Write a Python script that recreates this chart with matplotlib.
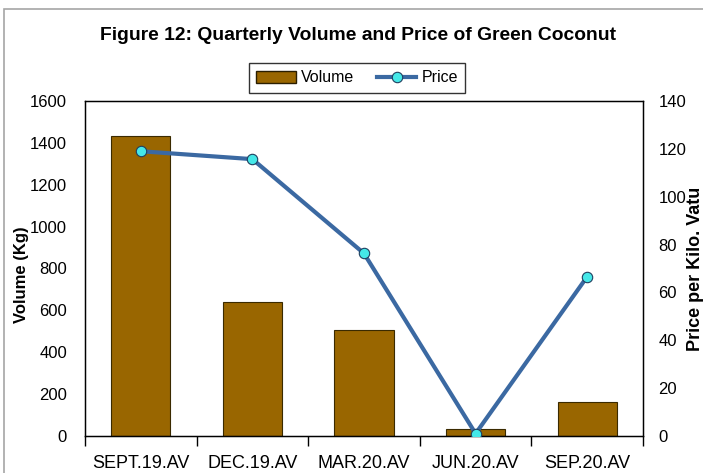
import matplotlib
matplotlib.use("Agg")
import matplotlib.pyplot as plt
from matplotlib.patches import Rectangle
from matplotlib.lines import Line2D
import numpy as np

plt.rcParams['font.family'] = ['Liberation Sans', 'DejaVu Sans']

categories = ["SEPT.19.AV", "DEC.19.AV", "MAR.20.AV", "JUN.20.AV", "SEP.20.AV"]
volume = [1432, 642, 508, 33, 163]
price = [119, 115.7, 76.3, 1, 66.6]
vol_ticks = [0, 200, 400, 600, 800, 1000, 1200, 1400, 1600]
price_ticks = [0, 20, 40, 60, 80, 100, 120, 140]

W, H = 703, 473
fig = plt.figure(figsize=(W/100, H/100), dpi=100)

# outer chart border (cropped at right and bottom)
fig.patches.append(Rectangle((4/W, -0.1), 1.2, 1 - 9/H + 0.1, transform=fig.transFigure,
                             fill=False, edgecolor='#a6a6a6', linewidth=1.2))

left, right, top, bottom = 85, 643, 101, 436
ax = fig.add_axes([left/W, 1 - bottom/H, (right-left)/W, (bottom-top)/H])
x = np.arange(len(categories))
ax.bar(x, volume, width=0.53, color='#996600', edgecolor='#3a2a00', linewidth=0.8, zorder=2)
ax.set_xlim(-0.5, len(categories) - 0.5)
ax.set_ylim(0, 1600)
ax.set_yticks(vol_ticks)
ax.set_yticklabels([str(v) for v in vol_ticks], fontsize=12)
ax.tick_params(axis='y', length=0, pad=13)
ax.set_xticks(np.arange(len(categories) + 1) - 0.5, minor=False)
ax.set_xticklabels([])
ax.set_xticks(x, minor=True)
ax.set_xticklabels(categories, minor=True, fontsize=13)
ax.tick_params(axis='x', which='major', length=7, direction='out', width=1)
ax.tick_params(axis='x', which='minor', length=0, pad=14)
for s in ax.spines.values():
    s.set_linewidth(1.0)

fig.text(22/W, 1 - 275/H, "Volume (Kg)", rotation=90, fontsize=12, fontweight='bold',
         ha='center', va='center')

ax2 = ax.twinx()
ax2.plot(x, price, color='#3b69a2', linewidth=3, marker='o', markersize=7.5,
         markerfacecolor='#45e8e8', markeredgecolor='#1f3f5f', markeredgewidth=0.8, zorder=3)
ax2.set_ylim(0, 140)
ax2.set_yticks(price_ticks)
ax2.set_yticklabels([str(v) for v in price_ticks], fontsize=12)
ax2.tick_params(axis='y', length=0, pad=11)
fig.text(695/W, 1 - 269/H, "Price per Kilo. Vatu", rotation=90, fontsize=13, fontweight='bold',
         ha='center', va='center')

fig.text(358/W, 1 - 35/H, "Figure 12: Quarterly Volume and Price of Green Coconut",
         fontsize=13.9, fontweight='bold', ha='center', va='center')

handles = [Rectangle((0, 0), 1, 1, facecolor='#996600', edgecolor='#2a1e00', linewidth=1.0),
           Line2D([], [], color='#3b69a2', linewidth=3, marker='o', markersize=7.5,
                  markerfacecolor='#45e8e8', markeredgecolor='#1f3f5f', markeredgewidth=0.8)]
leg = fig.legend(handles, ["Volume", "Price"], loc='center', bbox_to_anchor=(357/W, 1 - 78/H),
                 ncol=2, frameon=True, fancybox=False, edgecolor='black', fontsize=11.5,
                 handlelength=2.5, handleheight=0.8, columnspacing=1.4, handletextpad=0.3,
                 borderpad=0.45, borderaxespad=0)
leg.get_frame().set_linewidth(1.0)

fig.savefig("out.png", dpi=100)
